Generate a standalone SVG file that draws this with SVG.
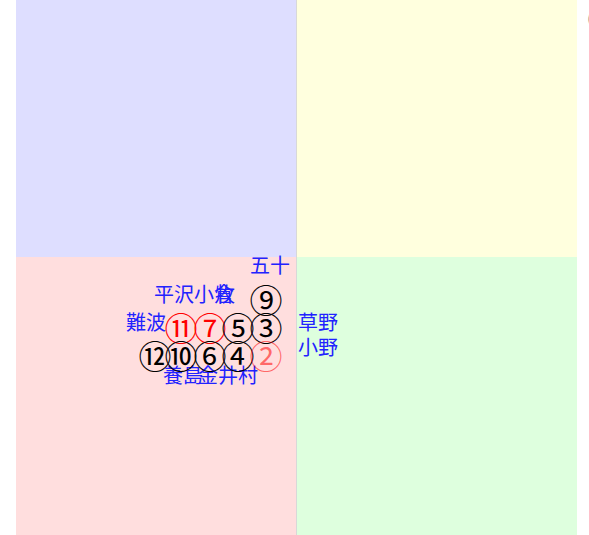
<svg xmlns="http://www.w3.org/2000/svg" width="589" height="535" viewBox="0 0 589 535">
<style>
.lbl{font-family:"Noto Sans CJK JP",sans-serif;font-size:20px;fill:#2222ff}
.num{font-family:"DejaVu Serif","Noto Sans CJK JP",serif;font-size:33px;text-anchor:middle;dominant-baseline:central}
.blk{fill:#000}
.red{fill:#ff0000}
.pale{fill:#ff0000;fill-opacity:0.55}
</style>
<rect width="589" height="535" fill="#fff"/>
<g id="quadrants">
<rect x="16" y="0" width="280" height="257" fill="#dedeff"/>
<rect x="297" y="0" width="280" height="257" fill="#ffffde"/>
<rect x="16" y="257" width="280" height="278" fill="#ffdede"/>
<rect x="297" y="257" width="280" height="278" fill="#deffde"/>
<line x1="296.5" y1="0" x2="296.5" y2="535" stroke="#d8d8d8" stroke-width="1"/>
</g>
<g id="connectors"></g>
<g id="labels">
<text id="l-goju" class="lbl" x="250" y="273">五十</text>
<text id="l-hirasawa" class="lbl" x="154" y="302">平沢小倉</text>
<text id="l-maki" class="lbl" x="215" y="302">牧</text>
<text id="l-namba" class="lbl" x="126" y="330">難波</text>
<text id="l-kusano" class="lbl" x="298" y="330">草野</text>
<text id="l-ono" class="lbl" x="298" y="355">小野</text>
<text id="l-yoshima" class="lbl" x="163" y="383">養島</text>
<text id="l-kanai" class="lbl" x="198" y="383">金井村</text>
</g>
<g id="nodes">
<text id="n9" class="num blk" x="266" y="301">⑨</text>
<text id="n11" class="num red" x="181" y="329">⑪</text>
<text id="n7" class="num red" x="210" y="329">⑦</text>
<text id="n5" class="num blk" x="238" y="329">⑤</text>
<text id="n3" class="num blk" x="266" y="329">③</text>
<text id="n12" class="num blk" x="155" y="357">⑫</text>
<text id="n10" class="num blk" x="181" y="357">⑩</text>
<text id="n6" class="num blk" x="210" y="357">⑥</text>
<text id="n4" class="num blk" x="238" y="357">④</text>
<text id="n2" class="num pale" x="266" y="357">②</text>
</g>
<text x="587" y="24" font-family="DejaVu Sans" font-size="16" fill="#999">(</text>
</svg>
